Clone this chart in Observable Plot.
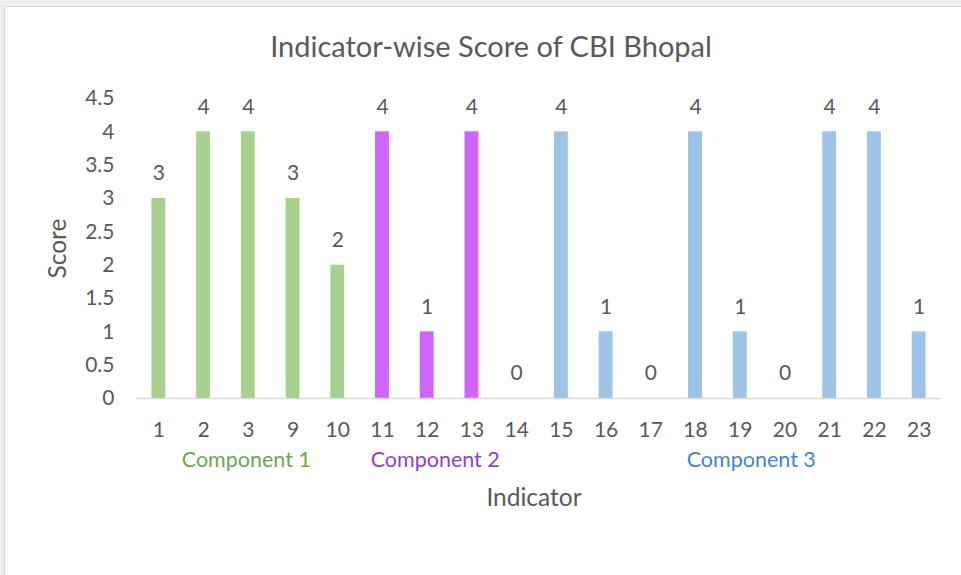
<!DOCTYPE html>
<html>
<head>
<meta charset="utf-8">
<script src="https://cdn.jsdelivr.net/npm/d3@7"></script>
<script src="https://cdn.jsdelivr.net/npm/@observablehq/plot@0.6"></script>
<style>
  html, body { margin: 0; padding: 0; background: #eeeeee; }
  #wrap { position: relative; width: 961px; height: 575px; overflow: hidden; }
  #paper { position: absolute; left: 4px; top: 6px; right: 0; bottom: 0; background: #ffffff; border-left: 1px solid #d6d6d6; border-top: 1px solid #d6d6d6; }
  #chart { position: absolute; left: 0; top: 0; }
  #chart svg { background: transparent; }
</style>
</head>
<body>
<div id="wrap"><div id="paper"></div><div id="chart"></div></div>
<script>
const categories = ["1","2","3","9","10","11","12","13","14","15","16","17","18","19","20","21","22","23"];
const scores     = [3, 4, 4, 3, 2, 4, 1, 4, 0, 4, 1, 0, 4, 1, 0, 4, 4, 1];
const components = ["Component 1","Component 1","Component 1","Component 1","Component 1",
                    "Component 2","Component 2","Component 2",
                    "Component 3","Component 3","Component 3","Component 3","Component 3","Component 3","Component 3","Component 3","Component 3","Component 3"];
const componentNames   = ["Component 1", "Component 2", "Component 3"];
const componentAnchors = ["3", "12", "19"];
const componentShift   = [-2, 8, 11];
const yTicks = [0, 0.5, 1, 1.5, 2, 2.5, 3, 3.5, 4, 4.5];

const barColors  = ["#a9d18e", "#cc66ff", "#9dc3e6"];
const textColors = ["#6aa84f", "#9140c8", "#3f87c9"];

const data = categories.map((c, i) => ({indicator: c, score: scores[i], component: components[i]}));
const compData = componentNames.map((n, i) => ({name: n, anchor: componentAnchors[i], shift: componentShift[i], color: textColors[i]}));

const font = "Lato, 'Open Sans', sans-serif";
const gray = "#595959";

const chart = Plot.plot({
  width: 961,
  height: 575,
  marginLeft: 136,
  marginRight: 20,
  marginTop: 98,
  marginBottom: 177,
  style: {fontFamily: font, fontSize: "21px", color: gray, background: "transparent"},
  x: {domain: categories, paddingInner: 0.69, paddingOuter: 0.345, round: false, label: null},
  y: {domain: [0, 4.5], label: null},
  color: {domain: componentNames, range: barColors},
  marks: [
    Plot.axisY({ticks: yTicks, tickSize: 0, tickPadding: 22, tickFormat: d => String(d), fill: gray, fontSize: 21, label: null}),
    Plot.axisX({tickSize: 0, tickPadding: 24, fill: gray, fontSize: 21, label: null}),
    Plot.barY(data, {x: "indicator", y: "score", fill: "component"}),
    Plot.ruleY([0], {stroke: "#d9d9d9", strokeWidth: 1.5}),
    Plot.text(data, {x: "indicator", y: "score", text: d => String(d.score), dy: -25, fill: gray, fontSize: 21}),
    ...compData.map(c => Plot.text([c], {x: "anchor", frameAnchor: "bottom", lineAnchor: "middle", dy: 62, dx: c.shift, text: "name", fill: c.color, fontSize: 21.5})),
    Plot.text(["Indicator"], {frameAnchor: "bottom", lineAnchor: "middle", dy: 100, dx: -5, text: d => d, fill: gray, fontSize: 24.5}),
    Plot.text(["Score"], {frameAnchor: "left", textAnchor: "middle", lineAnchor: "middle", dx: -78, rotate: -90, text: d => d, fill: gray, fontSize: 24.5}),
    Plot.text(["Indicator-wise Score of CBI Bhopal"], {frameAnchor: "top", lineAnchor: "middle", dy: -51, dx: -48, text: d => d, fill: gray, fontSize: 29})
  ]
});
document.getElementById("chart").appendChild(chart);
</script>
</body>
</html>
